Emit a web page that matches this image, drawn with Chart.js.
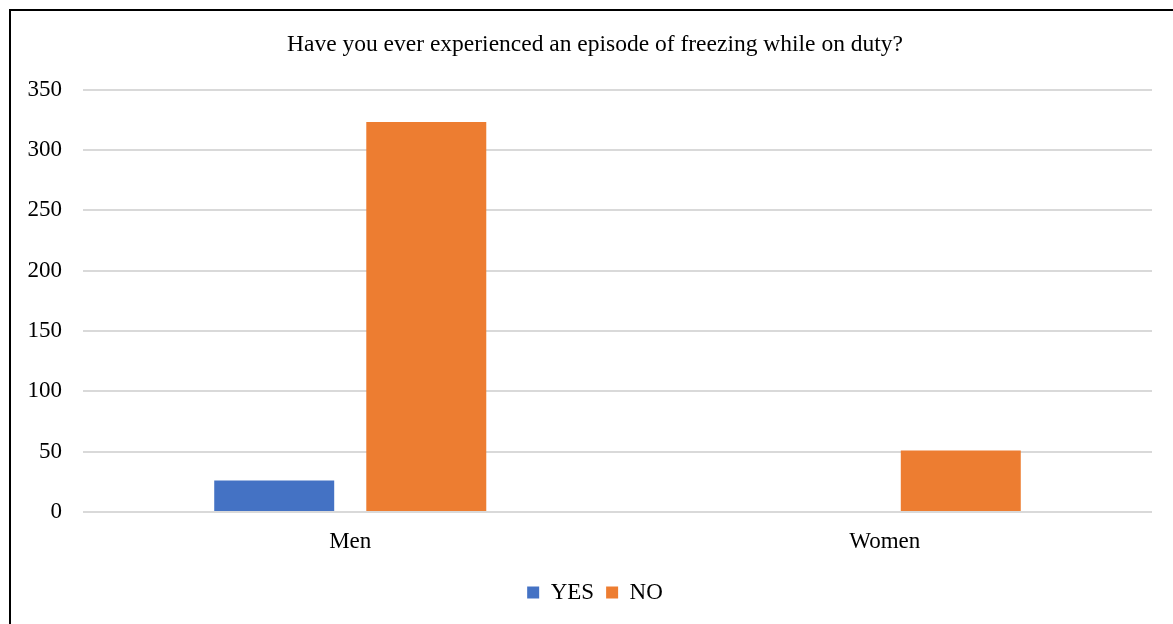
<!DOCTYPE html>
<html>
<head>
<meta charset="utf-8">
<script src="https://cdn.jsdelivr.net/npm/chart.js@4/dist/chart.umd.min.js"></script>
<style>
  html, body { margin: 0; padding: 0; background: #fff; overflow: hidden; }
  #wrap { width: 1173px; height: 624px; position: relative; }
</style>
</head>
<body>
<div id="wrap"><canvas id="c" width="1173" height="624"></canvas></div>
<script>
const chartTitle = "Have you ever experienced an episode of freezing while on duty?";
const categories = ["Men", "Women"];
const seriesNames = ["YES", "NO"];
const yesValues = [26, 0];
const noValues = [323, 51];
const yTicks = [0, 50, 100, 150, 200, 250, 300, 350];

const FONT = "'Liberation Serif', 'Times New Roman', serif";
const LEFT_PAD = 24;
const RIGHT_PAD = 7;
const RIGHT_SPACER = 1173 - RIGHT_PAD - 1152;

const framePlugin = {
  id: 'frame',
  beforeDraw(chart) {
    const ctx = chart.ctx;
    ctx.save();
    ctx.fillStyle = '#fff';
    ctx.fillRect(0, 0, chart.width, chart.height);
    ctx.strokeStyle = '#000';
    ctx.lineWidth = 2;
    ctx.beginPath();
    ctx.moveTo(10, chart.height + 5);
    ctx.lineTo(10, 10);
    ctx.lineTo(chart.width + 5, 10);
    ctx.stroke();
    ctx.restore();
  }
};

new Chart(document.getElementById('c'), {
  type: 'bar',
  data: {
    labels: categories,
    datasets: [
      { label: seriesNames[0], data: yesValues, backgroundColor: '#4472C4', borderWidth: 0 },
      { label: seriesNames[1], data: noValues, backgroundColor: '#ED7D31', borderWidth: 0 }
    ]
  },
  options: {
    responsive: false,
    animation: false,
    devicePixelRatio: 1,
    layout: { padding: { left: LEFT_PAD, right: RIGHT_PAD, top: 0, bottom: 10 } },
    datasets: { bar: { categoryPercentage: 0.569, barPercentage: 0.789 } },
    plugins: {
      title: {
        display: true,
        text: chartTitle,
        color: '#000',
        font: { family: FONT, size: 23.5, weight: 'normal' },
        padding: { top: 30.5, bottom: 30.8 }
      },
      legend: {
        display: true,
        position: 'bottom',
        labels: {
          color: '#000',
          font: { family: FONT, size: 23 },
          boxWidth: 12,
          boxHeight: 12,
          padding: 12
        }
      },
      tooltip: { enabled: false }
    },
    scales: {
      x: {
        grid: { display: false, drawTicks: false },
        border: { display: false },
        ticks: { color: '#000', font: { family: FONT, size: 23 }, padding: 16 },
        afterFit(scale) { scale.height = 57; }
      },
      y: {
        min: 0,
        max: 350,
        afterBuildTicks(scale) { scale.ticks = yTicks.map(v => ({ value: v })); },
        grid: { color: '#D9D9D9', lineWidth: 2, drawTicks: false },
        border: { display: false },
        ticks: { color: '#000', font: { family: FONT, size: 23 }, padding: 21 },
        afterFit(scale) { scale.width = 83 - LEFT_PAD; }
      },
      spacer: {
        type: 'linear',
        position: 'right',
        display: true,
        grid: { display: false, drawTicks: false },
        border: { display: false },
        ticks: { display: false },
        afterFit(scale) { scale.width = RIGHT_SPACER; }
      }
    }
  },
  plugins: [framePlugin]
});
</script>
</body>
</html>
